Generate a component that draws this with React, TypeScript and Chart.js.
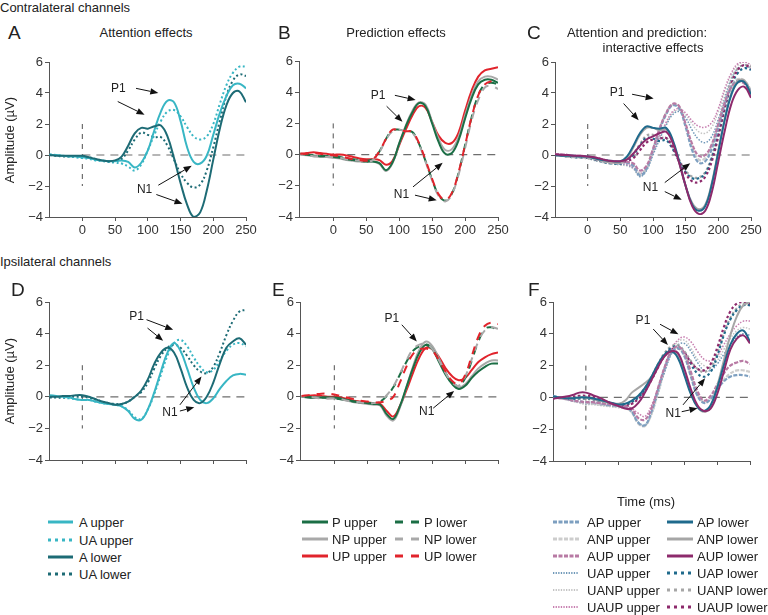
import React, { useEffect, useRef } from "react";
import { Chart, registerables } from "chart.js";
Chart.register(...registerables);

const FONT = "'Liberation Sans', Arial, sans-serif";

// ---------- data ----------
const TIME = [-50,-40,-30,-20,-10,0,10,20,30,40,50,60,70,80,90,100,110,120,130,140,150,160,170,180,190,200,210,220,230,240,250];
const Y_TICKS = [-4,-2,0,2,4,6];
const X_TICKS = [0,50,100,150,200,250];

// Panel A (contralateral, attention)
const A_UPPER_A = [0.0,0.0,-0.05,-0.1,-0.1,-0.15,-0.2,-0.3,-0.35,-0.4,-0.4,-0.35,-0.45,-0.8,-0.5,0.3,1.6,2.8,3.5,3.4,2.2,0.5,-0.45,-0.55,-0.05,1.3,2.7,3.8,4.5,4.6,4.3];
const UA_UPPER_A = [0.05,0.0,-0.05,-0.1,-0.15,-0.2,-0.25,-0.35,-0.4,-0.45,-0.5,-0.55,-0.75,-1.0,-0.6,0.3,1.3,2.2,2.8,2.9,2.5,1.8,1.2,1.0,1.2,2.0,3.3,4.5,5.3,5.7,5.7];
const A_LOWER_A = [0.0,-0.05,-0.05,-0.05,-0.05,-0.05,-0.15,-0.25,-0.35,-0.4,-0.35,-0.1,0.6,1.4,1.75,1.7,1.85,1.9,1.2,-0.2,-1.8,-3.2,-4.0,-3.7,-2.3,-0.3,1.7,3.2,4.0,4.1,3.4];
const UA_LOWER_A = [0.0,-0.05,-0.1,-0.1,-0.1,-0.1,-0.15,-0.25,-0.35,-0.4,-0.4,-0.25,0.3,1.0,1.45,1.3,1.15,1.15,0.6,-0.3,-1.2,-1.8,-2.1,-1.9,-1.0,0.5,2.2,3.8,4.8,5.2,5.1];

// Panel B (contralateral, prediction)
const P_UPPER_B = [0.05,0.0,-0.05,-0.1,-0.1,-0.15,-0.2,-0.3,-0.35,-0.4,-0.45,-0.45,-0.55,-1.0,-0.5,0.7,1.8,2.7,3.3,3.1,2.0,0.8,0.05,0.1,0.9,2.3,3.6,4.5,4.8,4.8,4.6];
const NP_UPPER_B = [0.0,-0.05,-0.1,-0.15,-0.15,-0.2,-0.25,-0.35,-0.4,-0.45,-0.45,-0.45,-0.6,-1.05,-0.55,0.7,1.85,2.8,3.35,3.2,2.1,1.0,0.3,0.35,1.1,2.5,3.8,4.7,5.0,5.0,4.8];
const UP_UPPER_B = [0.05,0.1,0.15,0.1,0.05,0.0,0.0,-0.05,-0.15,-0.25,-0.3,-0.3,-0.35,-0.65,-0.4,0.6,1.6,2.5,3.1,3.0,2.1,1.2,0.75,0.75,1.4,2.8,4.1,5.0,5.4,5.5,5.6];
const P_LOWER_B = [0.05,0.0,-0.05,-0.05,-0.1,-0.1,-0.15,-0.25,-0.3,-0.35,-0.4,-0.3,0.2,1.0,1.55,1.6,1.5,1.45,0.7,-0.4,-1.6,-2.6,-2.95,-2.5,-1.2,0.6,2.4,3.8,4.5,4.6,4.5];
const NP_LOWER_B = [0.0,-0.05,-0.1,-0.1,-0.15,-0.15,-0.2,-0.3,-0.35,-0.4,-0.45,-0.35,0.15,0.95,1.5,1.6,1.5,1.4,0.65,-0.45,-1.65,-2.65,-3.0,-2.55,-1.3,0.4,2.2,3.5,4.3,4.4,4.2];
const UP_LOWER_B = [0.05,0.05,0.1,0.05,0.0,-0.05,-0.1,-0.2,-0.3,-0.35,-0.4,-0.3,0.2,1.0,1.6,1.55,1.5,1.45,0.75,-0.35,-1.55,-2.55,-2.9,-2.45,-1.15,0.6,2.4,3.8,4.5,4.7,4.7];

// Panel C (contralateral, interaction)
const AP_UPPER_C = [0.05,0.0,-0.05,-0.1,-0.1,-0.15,-0.2,-0.3,-0.4,-0.45,-0.45,-0.5,-0.7,-1.3,-0.9,0.3,1.6,2.6,3.2,3.0,1.8,0.3,-0.5,-0.4,0.4,1.8,3.3,4.4,4.8,4.7,4.1];
const ANP_UPPER_C = [0.0,-0.05,-0.1,-0.15,-0.15,-0.2,-0.25,-0.35,-0.45,-0.5,-0.5,-0.5,-0.65,-1.2,-0.85,0.35,1.7,2.7,3.25,3.1,1.9,0.5,-0.3,-0.2,0.6,2.0,3.5,4.5,4.9,4.8,4.2];
const AUP_UPPER_C = [0.05,0.05,0.0,-0.05,-0.05,-0.1,-0.15,-0.25,-0.35,-0.4,-0.45,-0.45,-0.55,-1.0,-0.7,0.4,1.7,2.7,3.3,3.15,2.0,0.7,-0.05,0.0,0.7,2.0,3.4,4.4,4.7,4.6,4.0];
const AP_LOWER_C = [0.0,-0.05,-0.05,-0.05,-0.1,-0.1,-0.2,-0.3,-0.35,-0.4,-0.4,-0.1,0.6,1.4,1.85,1.75,1.7,1.75,1.0,-0.4,-2.0,-3.2,-3.6,-3.3,-1.9,0.2,2.3,3.9,4.7,4.7,3.9];
const ANP_LOWER_C = [0.0,-0.05,-0.1,-0.1,-0.1,-0.15,-0.25,-0.35,-0.45,-0.5,-0.5,-0.2,0.5,1.3,1.75,1.75,1.6,1.65,0.9,-0.5,-2.0,-3.1,-3.5,-3.2,-1.8,0.3,2.4,4.0,4.8,4.8,4.0];
const AUP_LOWER_C = [0.05,0.0,0.0,-0.05,-0.05,-0.1,-0.15,-0.25,-0.35,-0.4,-0.4,-0.3,0.1,0.6,1.0,1.2,1.4,1.5,0.8,-0.5,-2.0,-3.3,-3.8,-3.6,-2.4,-0.4,1.6,3.3,4.2,4.4,3.7];
const UAP_UPPER_C = [0.05,0.0,-0.05,-0.1,-0.15,-0.2,-0.3,-0.4,-0.5,-0.55,-0.6,-0.65,-0.85,-1.4,-1.0,0.0,1.0,1.9,2.6,2.8,2.4,1.6,1.0,0.8,1.2,2.3,3.7,4.9,5.6,5.8,5.6];
const UANP_UPPER_C = [0.0,-0.05,-0.1,-0.15,-0.2,-0.25,-0.35,-0.45,-0.55,-0.6,-0.65,-0.7,-0.9,-1.35,-0.95,0.1,1.1,2.0,2.7,2.9,2.6,2.0,1.5,1.4,1.8,2.8,4.1,5.2,5.8,6.0,5.8];
const UAUP_UPPER_C = [0.1,0.05,0.0,-0.05,-0.1,-0.15,-0.25,-0.35,-0.45,-0.5,-0.55,-0.6,-0.8,-1.2,-0.8,0.2,1.2,2.1,2.8,3.0,2.7,2.2,1.85,1.8,2.1,3.0,4.3,5.3,5.9,6.0,5.8];
const UAP_LOWER_C = [0.0,-0.05,-0.1,-0.15,-0.15,-0.2,-0.3,-0.4,-0.5,-0.55,-0.55,-0.35,0.0,0.6,1.1,1.05,0.9,0.95,0.4,-0.4,-1.1,-1.5,-1.5,-1.2,-0.2,1.3,3.0,4.5,5.3,5.6,5.5];
const UANP_LOWER_C = [0.0,-0.05,-0.1,-0.1,-0.15,-0.2,-0.3,-0.4,-0.5,-0.5,-0.5,-0.3,0.1,0.7,1.25,1.3,1.1,1.1,0.5,-0.3,-1.0,-1.4,-1.45,-1.1,-0.1,1.5,3.3,4.8,5.6,5.8,5.7];
const UAUP_LOWER_C = [0.05,0.0,-0.05,-0.05,-0.1,-0.15,-0.25,-0.35,-0.45,-0.5,-0.5,-0.4,-0.2,0.3,0.8,1.0,1.05,1.1,0.5,-0.4,-1.2,-1.7,-1.75,-1.4,-0.4,1.2,3.1,4.6,5.5,5.8,5.6];

// Panel D (ipsilateral, attention)
const A_UPPER_D = [0.1,0.05,0.0,-0.05,-0.15,-0.2,-0.2,-0.3,-0.4,-0.45,-0.5,-0.6,-0.9,-1.4,-1.45,-0.8,0.3,1.6,2.8,3.4,2.9,1.8,0.6,-0.2,-0.4,-0.1,0.5,1.0,1.35,1.45,1.4];
const UA_UPPER_D = [0.05,0.0,-0.05,-0.1,-0.15,-0.2,-0.2,-0.3,-0.4,-0.45,-0.5,-0.6,-0.85,-1.3,-1.4,-0.8,0.2,1.4,2.6,3.4,3.6,3.2,2.5,1.9,1.55,1.7,2.3,2.9,3.3,3.4,3.2];
const A_LOWER_D = [0.0,0.0,0.05,0.05,0.1,0.1,0.0,-0.15,-0.3,-0.4,-0.5,-0.45,-0.3,0.0,0.4,1.1,2.1,2.8,3.1,2.8,1.8,0.6,-0.2,-0.4,0.0,0.9,2.1,3.1,3.5,3.7,3.3];
const UA_LOWER_D = [-0.05,-0.05,-0.05,0.0,0.0,0.0,-0.05,-0.15,-0.3,-0.4,-0.45,-0.45,-0.3,0.0,0.3,0.9,1.8,2.6,3.1,3.3,3.1,2.6,2.0,1.6,1.5,1.9,2.8,3.9,4.8,5.4,5.5];

// Panel E (ipsilateral, prediction)
const P_UPPER_E = [0.0,-0.05,-0.05,-0.05,-0.05,-0.05,-0.1,-0.2,-0.3,-0.35,-0.4,-0.45,-0.5,-1.1,-1.4,-0.6,0.6,1.8,2.8,3.3,3.0,2.2,1.4,0.8,0.5,0.7,1.2,1.6,1.9,2.1,2.1];
const NP_UPPER_E = [0.0,-0.05,-0.05,-0.05,-0.1,-0.1,-0.15,-0.25,-0.35,-0.4,-0.45,-0.5,-0.55,-1.2,-1.5,-0.7,0.6,1.9,3.0,3.5,3.2,2.4,1.5,0.9,0.6,0.8,1.3,1.8,2.1,2.3,2.3];
const UP_UPPER_E = [0.05,0.05,0.1,0.05,0.0,0.0,-0.05,-0.15,-0.25,-0.3,-0.35,-0.4,-0.45,-0.9,-1.25,-0.6,0.4,1.5,2.5,3.1,3.0,2.5,1.8,1.3,1.05,1.2,1.7,2.2,2.5,2.7,2.8];
const P_LOWER_E = [0.0,0.0,-0.05,-0.05,-0.05,-0.1,-0.15,-0.25,-0.3,-0.35,-0.4,-0.4,-0.3,0.05,0.6,1.4,2.2,2.9,3.2,3.3,3.0,2.3,1.5,0.9,0.7,1.2,2.3,3.5,4.3,4.4,4.2];
const NP_LOWER_E = [0.0,0.0,-0.05,-0.1,-0.1,-0.1,-0.15,-0.25,-0.3,-0.35,-0.4,-0.4,-0.3,0.1,0.65,1.45,2.3,3.0,3.3,3.35,3.0,2.3,1.5,0.9,0.7,1.3,2.4,3.5,4.2,4.4,4.3];
const UP_LOWER_E = [0.05,0.1,0.15,0.2,0.2,0.15,0.05,-0.05,-0.15,-0.25,-0.3,-0.35,-0.35,-0.25,0.0,0.9,1.9,2.7,3.0,3.05,2.9,2.3,1.6,1.0,0.8,1.4,2.6,3.8,4.5,4.7,4.6];

// Panel F (ipsilateral, interaction)
const AP_UPPER_F = [0.1,0.0,-0.1,-0.2,-0.25,-0.3,-0.3,-0.35,-0.45,-0.5,-0.55,-0.6,-0.9,-1.6,-1.75,-0.9,0.5,1.8,2.8,3.1,2.6,1.3,0.1,-0.35,-0.1,0.5,1.0,1.3,1.4,1.4,1.3];
const ANP_UPPER_F = [0.05,0.0,-0.1,-0.2,-0.3,-0.35,-0.4,-0.45,-0.5,-0.55,-0.6,-0.65,-0.95,-1.65,-1.8,-1.0,0.4,1.8,2.8,3.15,2.7,1.4,0.2,-0.3,-0.1,0.5,1.1,1.5,1.7,1.7,1.6];
const AUP_UPPER_F = [0.0,-0.05,-0.1,-0.2,-0.25,-0.3,-0.3,-0.35,-0.4,-0.45,-0.5,-0.55,-0.75,-1.3,-1.4,-0.7,0.6,1.9,2.9,3.2,2.8,1.6,0.4,-0.2,0.1,0.8,1.5,2.0,2.2,2.3,2.1];
const AP_LOWER_F = [0.05,0.0,-0.05,-0.05,0.0,0.0,-0.05,-0.15,-0.25,-0.35,-0.45,-0.4,-0.2,0.1,0.6,1.3,2.1,2.7,2.9,2.5,1.4,0.2,-0.6,-0.85,-0.5,0.6,2.0,3.3,4.0,4.2,3.5];
const ANP_LOWER_F = [0.0,0.0,-0.05,-0.05,0.0,0.0,-0.1,-0.2,-0.3,-0.35,-0.4,-0.2,0.3,0.6,0.9,1.3,2.0,2.6,2.9,2.6,1.5,0.3,-0.6,-0.9,-0.6,0.7,2.3,3.9,5.1,5.8,6.0];
const AUP_LOWER_F = [-0.1,0.0,0.05,0.15,0.3,0.3,0.15,0.0,-0.2,-0.4,-0.55,-0.7,-0.7,-0.35,0.3,1.1,1.9,2.6,2.9,2.8,1.8,0.5,-0.5,-0.85,-0.7,0.2,1.6,3.0,3.7,3.9,3.4];
const UAP_UPPER_F = [0.05,0.0,-0.1,-0.2,-0.3,-0.4,-0.4,-0.45,-0.5,-0.55,-0.6,-0.65,-0.9,-1.55,-1.75,-1.0,0.3,1.6,2.7,3.3,3.4,2.9,2.2,1.7,1.7,2.1,2.7,3.3,3.8,4.0,3.9];
const UANP_UPPER_F = [0.0,-0.05,-0.15,-0.25,-0.35,-0.45,-0.45,-0.5,-0.55,-0.6,-0.65,-0.7,-0.95,-1.6,-1.8,-1.1,0.2,1.6,2.8,3.5,3.6,3.1,2.4,2.0,1.9,2.3,3.0,3.7,4.2,4.4,4.3];
const UAUP_UPPER_F = [0.0,-0.05,-0.1,-0.2,-0.3,-0.35,-0.35,-0.4,-0.45,-0.5,-0.5,-0.55,-0.7,-1.0,-1.2,-0.5,0.6,1.9,3.0,3.6,3.8,3.5,2.9,2.4,2.3,2.6,3.3,4.0,4.5,4.8,4.8];
const UAP_LOWER_F = [0.05,0.0,-0.05,-0.1,-0.05,-0.05,-0.1,-0.2,-0.3,-0.4,-0.45,-0.45,-0.3,0.0,0.5,1.2,2.0,2.7,3.1,3.2,2.8,2.1,1.5,1.3,1.6,2.6,3.9,4.9,5.5,5.8,5.8];
const UANP_LOWER_F = [0.0,-0.05,-0.1,-0.1,-0.1,-0.1,-0.15,-0.25,-0.35,-0.45,-0.5,-0.45,-0.25,0.1,0.6,1.3,2.1,2.8,3.2,3.3,2.9,2.3,1.8,1.6,1.9,2.8,4.0,5.0,5.6,5.9,5.8];
const UAUP_LOWER_F = [-0.05,0.0,0.0,0.05,0.1,0.1,0.05,-0.1,-0.25,-0.4,-0.5,-0.55,-0.4,-0.1,0.4,1.1,1.9,2.6,3.0,3.1,2.8,2.2,1.8,1.7,2.1,3.1,4.4,5.4,5.9,6.0,5.9];

// ---------- styles ----------
const CYAN = "#38b6c4", TEAL = "#1d6b75";
const GREEN = "#1b6e45", GREY = "#a9a9a9", RED = "#e1242c";
const C_AP_UP = "#7d9fc0", C_ANP_UP = "#cdcdcd", C_AUP_UP = "#b87aa4";
const C_AP_LO = "#1f6a8c", C_ANP_LO = "#a6a6a6", C_AUP_LO = "#8d2a6c";
const C_UAP_UP = "#6f98b8", C_UANP_UP = "#c4c4c4", C_UAUP_UP = "#c77fb0";

type Sty = { color: string; width: number; dash: number[]; offset?: number };
const SOLID = (c: string): Sty => ({ color: c, width: 2, dash: [] });
const DOT = (c: string): Sty => ({ color: c, width: 2, dash: [2, 2.5] });
const DASHB = (c: string, off: number): Sty => ({ color: c, width: 2, dash: [8, 7], offset: off });
const SHORTDASH = (c: string): Sty => ({ color: c, width: 2.2, dash: [4, 1.5] });
const FINEDOT = (c: string): Sty => ({ color: c, width: 1.5, dash: [1.5, 1.5] });
const BIGDOT = (c: string): Sty => ({ color: c, width: 2.2, dash: [2.5, 2.5] });

type Series = { values: number[]; sty: Sty };
type Arrow = [number, number, number, number];
type Note = [string, number, number];
type PanelCfg = {
  L: number; R: number; T: number; B: number; xMin: number; showX: boolean;
  series: Series[]; arrows: Arrow[]; notes: Note[];
};

const PANELS: PanelCfg[] = [
  {
    L: 49, R: 246, T: 62, B: 217, xMin: -51, showX: true,
    series: [
      { values: A_LOWER_A, sty: SOLID(TEAL) },
      { values: A_UPPER_A, sty: SOLID(CYAN) },
      { values: UA_LOWER_A, sty: DOT(TEAL) },
      { values: UA_UPPER_A, sty: DOT(CYAN) },
    ],
    arrows: [[82, 4.3, 116, 4.0], [54, 3.45, 95, 2.6], [116, -1.95, 167, -0.7], [113, -2.55, 153, -3.15]],
    notes: [["P1", 55, 4.3], ["N1", 95, -2.25]],
  },
  {
    L: 299, R: 498, T: 61, B: 217, xMin: -52, showX: true,
    series: [
      { values: UP_LOWER_B, sty: DASHB(RED, 0) },
      { values: NP_LOWER_B, sty: DASHB(GREY, 5) },
      { values: P_LOWER_B, sty: DASHB(GREEN, 10) },
      { values: P_UPPER_B, sty: SOLID(GREEN) },
      { values: NP_UPPER_B, sty: SOLID(GREY) },
      { values: UP_UPPER_B, sty: SOLID(RED) },
    ],
    arrows: [[93.5, 3.8, 125, 3.5], [81, 3.1, 105, 2.1], [121, -2.07, 166, -0.53], [124, -2.6, 157, -2.93]],
    notes: [["P1", 68, 3.8], ["N1", 103.6, -2.6]],
  },
  {
    L: 555, R: 751, T: 62, B: 217, xMin: -50, showX: true,
    series: [
      { values: AUP_LOWER_C, sty: SOLID(C_AUP_LO) },
      { values: AP_LOWER_C, sty: SOLID(C_AP_LO) },
      { values: ANP_LOWER_C, sty: SOLID(C_ANP_LO) },
      { values: AUP_UPPER_C, sty: SHORTDASH(C_AUP_UP) },
      { values: AP_UPPER_C, sty: SHORTDASH(C_AP_UP) },
      { values: ANP_UPPER_C, sty: SHORTDASH(C_ANP_UP) },
      { values: UAUP_LOWER_C, sty: BIGDOT(C_AUP_LO) },
      { values: UAP_LOWER_C, sty: BIGDOT(C_AP_LO) },
      { values: UANP_LOWER_C, sty: BIGDOT(C_ANP_LO) },
      { values: UAUP_UPPER_C, sty: FINEDOT(C_UAUP_UP) },
      { values: UAP_UPPER_C, sty: FINEDOT(C_UAP_UP) },
      { values: UANP_UPPER_C, sty: FINEDOT(C_UANP_UP) },
    ],
    arrows: [[68, 3.92, 101, 3.64], [55, 3.32, 78, 2.25], [118, -1.78, 157, -0.53], [118, -2.36, 144, -2.89]],
    notes: [["P1", 45, 4.0], ["N1", 96, -2.1]],
  },
  {
    L: 49, R: 246, T: 302, B: 460, xMin: -51, showX: false,
    series: [
      { values: A_LOWER_D, sty: SOLID(TEAL) },
      { values: A_UPPER_D, sty: SOLID(CYAN) },
      { values: UA_LOWER_D, sty: DOT(TEAL) },
      { values: UA_UPPER_D, sty: DOT(CYAN) },
    ],
    arrows: [[98, 4.88, 138.7, 4.24], [99.5, 4.35, 123.4, 3.55], [149, -0.51, 182, 1.28], [149, -0.9, 171, -0.66]],
    notes: [["P1", 82.7, 5.09], ["N1", 133.7, -0.98]],
  },
  {
    L: 300, R: 498, T: 302, B: 460, xMin: -52.5, showX: false,
    series: [
      { values: UP_LOWER_E, sty: DASHB(RED, 0) },
      { values: NP_LOWER_E, sty: DASHB(GREY, 5) },
      { values: P_LOWER_E, sty: DASHB(GREEN, 10) },
      { values: P_UPPER_E, sty: SOLID(GREEN) },
      { values: NP_UPPER_E, sty: SOLID(GREY) },
      { values: UP_UPPER_E, sty: SOLID(RED) },
    ],
    arrows: [[103, 4.56, 126, 3.5], [151, -0.72, 183, 0.37]],
    notes: [["P1", 87.8, 4.94], ["N1", 141, -0.94]],
  },
  {
    L: 553, R: 750, T: 302, B: 461, xMin: -50, showX: false,
    series: [
      { values: AUP_LOWER_F, sty: SOLID(C_AUP_LO) },
      { values: AP_LOWER_F, sty: SOLID(C_AP_LO) },
      { values: ANP_LOWER_F, sty: SOLID(C_ANP_LO) },
      { values: AUP_UPPER_F, sty: SHORTDASH(C_AUP_UP) },
      { values: AP_UPPER_F, sty: SHORTDASH(C_AP_UP) },
      { values: ANP_UPPER_F, sty: SHORTDASH(C_ANP_UP) },
      { values: UAUP_LOWER_F, sty: BIGDOT(C_AUP_LO) },
      { values: UAP_LOWER_F, sty: BIGDOT(C_AP_LO) },
      { values: UANP_LOWER_F, sty: BIGDOT(C_ANP_LO) },
      { values: UAUP_UPPER_F, sty: FINEDOT(C_UAUP_UP) },
      { values: UAP_UPPER_F, sty: FINEDOT(C_UAP_UP) },
      { values: UANP_UPPER_F, sty: FINEDOT(C_UANP_UP) },
    ],
    arrows: [[113, 4.6, 141, 3.97], [102.6, 4.3, 125, 3.3], [148, -0.47, 181.7, 1.2], [146, -0.9, 170, -0.68]],
    notes: [["P1", 87, 4.82], ["N1", 133, -1.0]],
  },
];

const PAD_L = 50, PAD_T = 10, PAD_R = 15, PAD_B = 30;

function makeOverlay(cfg: PanelCfg) {
  return {
    id: "overlay",
    beforeDatasetsDraw(chart: any) {
      const { ctx } = chart;
      const x = chart.scales.x, y = chart.scales.y;
      ctx.save();
      ctx.strokeStyle = "#6e6e6e";
      ctx.lineWidth = 1.2;
      ctx.setLineDash([8, 6]);
      ctx.beginPath();
      ctx.moveTo(x.getPixelForValue(0), y.getPixelForValue(0));
      ctx.lineTo(x.getPixelForValue(250), y.getPixelForValue(0));
      ctx.stroke();
      ctx.setLineDash([5, 5]);
      ctx.beginPath();
      ctx.moveTo(x.getPixelForValue(0), y.getPixelForValue(2));
      ctx.lineTo(x.getPixelForValue(0), y.getPixelForValue(-2));
      ctx.stroke();
      ctx.restore();
    },
    afterDatasetsDraw(chart: any) {
      const { ctx } = chart;
      const x = chart.scales.x, y = chart.scales.y;
      ctx.save();
      ctx.strokeStyle = "#111";
      ctx.fillStyle = "#111";
      ctx.lineWidth = 1;
      ctx.setLineDash([]);
      for (const [t1, v1, t2, v2] of cfg.arrows) {
        const x1 = x.getPixelForValue(t1), y1 = y.getPixelForValue(v1);
        const x2 = x.getPixelForValue(t2), y2 = y.getPixelForValue(v2);
        const a = Math.atan2(y2 - y1, x2 - x1);
        const hl = 8, hw = 3.2;
        const bx = x2 - hl * Math.cos(a), by = y2 - hl * Math.sin(a);
        ctx.beginPath();
        ctx.moveTo(x1, y1);
        ctx.lineTo(bx, by);
        ctx.stroke();
        ctx.beginPath();
        ctx.moveTo(x2, y2);
        ctx.lineTo(bx - hw * Math.sin(a), by + hw * Math.cos(a));
        ctx.lineTo(bx + hw * Math.sin(a), by - hw * Math.cos(a));
        ctx.closePath();
        ctx.fill();
      }
      ctx.fillStyle = "#222";
      ctx.font = `12px ${FONT}`;
      ctx.textAlign = "center";
      ctx.textBaseline = "middle";
      for (const [txt, t, v] of cfg.notes) {
        ctx.fillText(txt, x.getPixelForValue(t), y.getPixelForValue(v));
      }
      ctx.restore();
    },
  };
}

function Panel({ cfg }: { cfg: PanelCfg }) {
  const ref = useRef<HTMLCanvasElement>(null);
  const w = cfg.R - cfg.L + PAD_L + PAD_R;
  const h = cfg.B - cfg.T + PAD_T + PAD_B;
  useEffect(() => {
    const axisColor = "#555";
    const chart = new Chart(ref.current as HTMLCanvasElement, {
      type: "line",
      data: {
        datasets: cfg.series.map((s) => ({
          data: TIME.map((t, i) => ({ x: t, y: s.values[i] })),
          borderColor: s.sty.color,
          borderWidth: s.sty.width,
          borderDash: s.sty.dash,
          borderDashOffset: s.sty.offset || 0,
          borderCapStyle: "butt",
          pointRadius: 0,
          tension: 0.4,
          fill: false,
        })),
      },
      options: {
        responsive: false,
        animation: false,
        events: [],
        layout: { padding: { left: 0, top: PAD_T, right: PAD_R, bottom: 0 } },
        plugins: { legend: { display: false }, tooltip: { enabled: false } },
        scales: {
          x: {
            type: "linear",
            min: cfg.xMin,
            max: 250,
            afterBuildTicks: (s: any) => { s.ticks = X_TICKS.map((v) => ({ value: v })); },
            afterFit: (s: any) => { s.height = PAD_B; },
            grid: { drawOnChartArea: false, drawTicks: true, tickLength: 4, color: axisColor },
            border: { color: axisColor, width: 1 },
            ticks: { display: cfg.showX, color: "#333", font: { family: FONT, size: 13 }, padding: 2, maxRotation: 0, autoSkip: false },
          },
          y: {
            min: -4,
            max: 6,
            afterBuildTicks: (s: any) => { s.ticks = Y_TICKS.map((v) => ({ value: v })); },
            afterFit: (s: any) => { s.width = PAD_L; },
            grid: { drawOnChartArea: false, drawTicks: true, tickLength: 4, color: axisColor },
            border: { color: axisColor, width: 1 },
            ticks: {
              color: "#333",
              font: { family: FONT, size: 13 },
              padding: 2,
              callback: (v: any) => String(v).replace("-", "\u2212"),
            },
          },
        },
      },
      plugins: [makeOverlay(cfg)],
    } as any);
    return () => chart.destroy();
  }, []);
  return (
    <canvas
      ref={ref}
      width={w}
      height={h}
      style={{ position: "absolute", left: cfg.L - PAD_L, top: cfg.T - PAD_T, width: w, height: h }}
    />
  );
}

function Txt({ x, y, size = 13, align = "left", children, rotate = false }: any) {
  const tx = align === "center" ? "-50%" : "0";
  return (
    <div
      style={{
        position: "absolute", left: x, top: y, fontSize: size, lineHeight: 1, whiteSpace: "nowrap",
        color: "#222", fontFamily: FONT,
        transform: rotate ? "translate(-50%,-50%) rotate(-90deg)" : `translate(${tx},-50%)`,
      }}
    >
      {children}
    </div>
  );
}

type LegItem = { label: string; color: string; width: number; dash: string; x1: number; x2: number; tx: number; y: number };

function LegendEntry({ it }: { it: LegItem }) {
  const len = it.x2 - it.x1;
  return (
    <>
      <svg style={{ position: "absolute", left: it.x1, top: it.y - 4 }} width={len} height={8}>
        <line x1={0} y1={4} x2={len} y2={4} stroke={it.color} strokeWidth={it.width} strokeDasharray={it.dash || undefined} />
      </svg>
      <Txt x={it.tx} y={it.y} size={13}>{it.label}</Txt>
    </>
  );
}

const LEG_A_ROWS = [522, 540, 557, 574];
const LEG_B_ROWS = [522, 539, 556];
const LEG_C_ROWS = [522, 539, 555.5, 573, 590, 607];

const LEGEND: LegItem[] = [
  { label: "A upper", color: CYAN, width: 3, dash: "", x1: 48, x2: 73, tx: 79, y: LEG_A_ROWS[0] },
  { label: "UA upper", color: CYAN, width: 3, dash: "3 4", x1: 48, x2: 73, tx: 79, y: LEG_A_ROWS[1] },
  { label: "A lower", color: TEAL, width: 3, dash: "", x1: 48, x2: 73, tx: 79, y: LEG_A_ROWS[2] },
  { label: "UA lower", color: TEAL, width: 3, dash: "3 4", x1: 48, x2: 73, tx: 79, y: LEG_A_ROWS[3] },

  { label: "P upper", color: GREEN, width: 3, dash: "", x1: 302, x2: 328, tx: 332, y: LEG_B_ROWS[0] },
  { label: "NP upper", color: GREY, width: 3, dash: "", x1: 302, x2: 328, tx: 332, y: LEG_B_ROWS[1] },
  { label: "UP upper", color: RED, width: 3, dash: "", x1: 302, x2: 328, tx: 332, y: LEG_B_ROWS[2] },
  { label: "P lower", color: GREEN, width: 3, dash: "8 8", x1: 395, x2: 419, tx: 424, y: LEG_B_ROWS[0] },
  { label: "NP lower", color: GREY, width: 3, dash: "8 8", x1: 395, x2: 419, tx: 424, y: LEG_B_ROWS[1] },
  { label: "UP lower", color: RED, width: 3, dash: "8 8", x1: 395, x2: 419, tx: 424, y: LEG_B_ROWS[2] },

  { label: "AP upper", color: C_AP_UP, width: 3, dash: "4 1.5", x1: 553, x2: 579, tx: 587, y: LEG_C_ROWS[0] },
  { label: "ANP upper", color: C_ANP_UP, width: 3, dash: "4 1.5", x1: 553, x2: 579, tx: 587, y: LEG_C_ROWS[1] },
  { label: "AUP upper", color: C_AUP_UP, width: 3, dash: "4 1.5", x1: 553, x2: 579, tx: 587, y: LEG_C_ROWS[2] },
  { label: "UAP upper", color: C_UAP_UP, width: 2, dash: "1.3 1.3", x1: 553, x2: 579, tx: 587, y: LEG_C_ROWS[3] },
  { label: "UANP upper", color: C_UANP_UP, width: 2, dash: "1.3 1.3", x1: 553, x2: 579, tx: 587, y: LEG_C_ROWS[4] },
  { label: "UAUP upper", color: C_UAUP_UP, width: 2, dash: "1.3 1.3", x1: 553, x2: 579, tx: 587, y: LEG_C_ROWS[5] },
  { label: "AP lower", color: C_AP_LO, width: 3, dash: "", x1: 667, x2: 693, tx: 697, y: LEG_C_ROWS[0] },
  { label: "ANP lower", color: C_ANP_LO, width: 3, dash: "", x1: 667, x2: 693, tx: 697, y: LEG_C_ROWS[1] },
  { label: "AUP lower", color: C_AUP_LO, width: 3, dash: "", x1: 667, x2: 693, tx: 697, y: LEG_C_ROWS[2] },
  { label: "UAP lower", color: C_AP_LO, width: 3, dash: "3 4", x1: 667, x2: 693, tx: 697, y: LEG_C_ROWS[3] },
  { label: "UANP lower", color: C_ANP_LO, width: 3, dash: "3 4", x1: 667, x2: 693, tx: 697, y: LEG_C_ROWS[4] },
  { label: "UAUP lower", color: C_AUP_LO, width: 3, dash: "3 4", x1: 667, x2: 693, tx: 697, y: LEG_C_ROWS[5] },
];

export default function App() {
  return (
    <div style={{ position: "absolute", left: 0, top: 0, width: 768, height: 615, background: "#fff", overflow: "hidden", fontFamily: FONT }}>
      {PANELS.map((p, i) => <Panel key={i} cfg={p} />)}

      <Txt x={0} y={7}>Contralateral channels</Txt>
      <Txt x={0} y={261}>Ipsilateral channels</Txt>

      <Txt x={8} y={32} size={19}>A</Txt>
      <Txt x={278} y={32} size={19}>B</Txt>
      <Txt x={527} y={32} size={19}>C</Txt>
      <Txt x={11} y={289} size={19}>D</Txt>
      <Txt x={272} y={289} size={19}>E</Txt>
      <Txt x={528} y={289} size={19}>F</Txt>

      <Txt x={146} y={32} align="center">Attention effects</Txt>
      <Txt x={396} y={32} align="center">Prediction effects</Txt>
      <Txt x={637} y={31.5} align="center">Attention and prediction:</Txt>
      <Txt x={653} y={46.5} align="center">interactive effects</Txt>

      <Txt x={9} y={139.5} size={13} rotate>Amplitude (µV)</Txt>
      <Txt x={9} y={381} size={13} rotate>Amplitude (µV)</Txt>

      <Txt x={646} y={501} size={13} align="center">Time (ms)</Txt>

      {LEGEND.map((it, i) => <LegendEntry key={i} it={it} />)}
    </div>
  );
}
